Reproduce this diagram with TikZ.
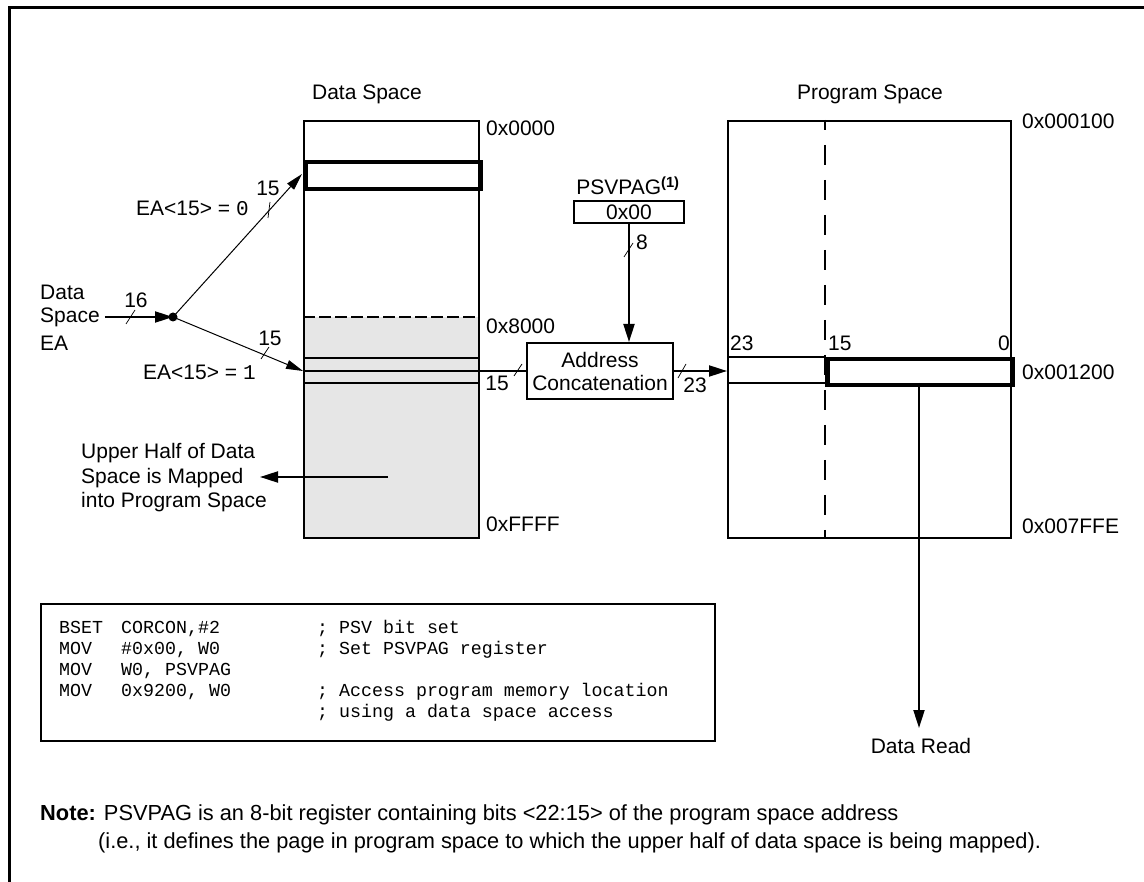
\documentclass[tikz,border=0pt]{standalone}
\usepackage{fontspec}
\setmainfont{Liberation Sans}
\setmonofont{Liberation Mono}
\usetikzlibrary{arrows.meta}
\definecolor{graybg}{RGB}{230,230,230}
\begin{document}
\begin{tikzpicture}[x=1pt,y=-1pt,
  lbl/.style={font=\fontsize{21}{24.5}\selectfont, inner sep=0pt},
  notetext/.style={font=\fontsize{21.8}{26}\selectfont, inner sep=0pt, anchor=base west},
  membox/.style={draw, line width=2.2pt, inner sep=0pt},
  rowbox/.style={draw, line width=4.5pt, inner sep=0pt},
  regbox/.style={draw, line width=2pt, inner sep=0pt},
  arr/.style={line width=2pt, -{Triangle[length=18pt,width=11pt]}},
  thinarr/.style={line width=1pt, -{Triangle[length=17pt,width=9pt]}},
  tickmark/.style={line width=0.7pt},
  codeline/.style={font=\fontsize{18.3}{21}\selectfont\ttfamily, inner sep=0pt, anchor=base west},
  frameline/.style={line width=3pt}
]
\useasboundingbox (0,0) rectangle (1144,882);
% frame
\coordinate (fa) at (9,882);
\coordinate (fb) at (9,8);
\coordinate (fc) at (1144,8);
\draw[frameline] (fa) -- (fb) -- (fc);

% ---------- Data space ----------
\node[lbl] (dstitle) at (367,94) {Data Space};
\fill[graybg] (303,317) rectangle (478,537);
\node[membox, anchor=north west, minimum width=175pt, minimum height=417pt] (ds) at (303,120) {};
\draw[line width=2pt, dash pattern=on 12pt off 4pt] (ds.west |- 0,317) -- (ds.east |- 0,317);
\node[rowbox, anchor=north west, minimum width=175pt, minimum height=27pt] (dsr) at (303,160) {};
\draw[line width=2pt] (ds.west |- 0,358) -- (ds.east |- 0,358);
\draw[line width=2pt] (ds.west |- 0,383) -- (ds.east |- 0,383);
\node[lbl, anchor=west] (h0) at (486,128) {0x0000};
\node[lbl, anchor=west] (h8) at (486,326) {0x8000};
\node[lbl, anchor=west] (hf) at (486,524) {0xFFFF};

% ---------- EA input ----------
\node[lbl, anchor=west] (eadata) at (40,292) {Data};
\node[lbl, anchor=west] (easpace) at (40,317) {Space};
\node[lbl, anchor=west] (eaea) at (40,343) {EA};
\coordinate (dot) at (173,317);
\coordinate (dstop) at (302,174);
\coordinate (dsrow) at (303,371);
\draw[arr, shorten <=5pt] (easpace.east) -- (dot);
\draw[thinarr] (dot) -- (dstop);
\draw[thinarr] (dot) -- (dsrow);
\node[circle, fill, inner sep=0pt, minimum size=9pt] (dotn) at (dot) {};
\draw[tickmark] (126,324) -- (135,310);
\node[lbl] (n16) at (136,300) {16};
\draw[tickmark] (268,218) -- (270,202);
\node[lbl] (n15a) at (268,188) {15};
\node[lbl, anchor=west] (ea0) at (136,208) {EA<15> = \texttt{0}};
\draw[tickmark] (261,359) -- (269,347);
\node[lbl] (n15b) at (270,338) {15};
\node[lbl, anchor=west] (ea1) at (143,372) {EA<15> = \texttt{1}};

% ---------- Upper half note ----------
\node[lbl, anchor=west, align=left] (upper) at (81,478) {Upper Half of Data\\Space is Mapped\\into Program Space};
\coordinate (upsrc) at (388,477);
\coordinate (uptip) at (260,477);
\draw[arr] (upsrc) -- (uptip);

% ---------- PSVPAG and concatenation ----------
\node[lbl] (psvt) at (628,186) {PSVPAG\textsuperscript{\bfseries (1)}};
\node[regbox, lbl, draw, line width=2pt, minimum width=110pt, minimum height=22pt] (psv) at (629,212) {0x00};
\node[regbox, minimum width=146pt, minimum height=56pt, align=center, lbl, draw, line width=2pt] (addr) at (600,371) {Address\\[-1.5pt]Concatenation};
\draw[arr] (psv.south) -- (psv.south |- addr.north);
\draw[tickmark] (624,257) -- (633,243);
\node[lbl] (n8) at (642,242) {8};
\draw[line width=2.5pt] (dsrow) -- (addr.west);
\draw[tickmark] (514,376) -- (522,364);
\node[lbl] (n15c) at (497,383) {15};

% ---------- Program space ----------
\node[lbl] (pstitle) at (870,94) {Program Space};
\node[membox, anchor=north west, minimum width=283pt, minimum height=417pt] (ps) at (727,120) {};
\draw[arr] (addr.east) -- (ps.west |- addr.east);
\draw[tickmark] (678,378) -- (686,364);
\node[lbl] (n23) at (695,385) {23};
\draw[line width=2pt, dash pattern=on 20pt off 15pt, dash phase=10pt] (825,120) -- (825,537);
\draw[line width=2pt] (ps.west |- 0,357) -- (825,357);
\draw[line width=2pt] (ps.west |- 0,383) -- (825,383);
\node[rowbox, anchor=north west, minimum width=185pt, minimum height=26pt] (psr) at (825,357) {};
\node[lbl, anchor=west] (b23) at (730,343) {23};
\node[lbl, anchor=west] (b15) at (828,343) {15};
\node[lbl, anchor=east] (b0) at (1010,343) {0};
\node[lbl, anchor=west] (p100) at (1022,121) {0x000100};
\node[lbl, anchor=west] (p1200) at (1022,372) {0x001200};
\node[lbl, anchor=west] (p7ffe) at (1022,526) {0x007FFE};
\coordinate (rdtop) at (919,383);
\coordinate (rdend) at (919,728);
\draw[arr] (rdtop) -- (rdend);
\node[lbl] (dread) at (921,746) {Data Read};

% ---------- Code ----------
\node[draw, line width=2pt, anchor=north west, minimum width=674pt, minimum height=137pt, inner sep=0pt] (code) at (40,603) {};
\node[codeline] (c1a) at (59,633.5) {BSET};
\node[codeline] (c1b) at (121,633.5) {CORCON,\#2};
\node[codeline] (c1c) at (317,633.5) {; PSV bit set};
\node[codeline] (c2a) at (59,654.5) {MOV};
\node[codeline] (c2b) at (121,654.5) {\#0x00, W0};
\node[codeline] (c2c) at (317,654.5) {; Set PSVPAG register};
\node[codeline] (c3a) at (59,675.5) {MOV};
\node[codeline] (c3b) at (121,675.5) {W0, PSVPAG};
\node[codeline] (c4a) at (59,696.5) {MOV};
\node[codeline] (c4b) at (121,696.5) {0x9200, W0};
\node[codeline] (c4c) at (317,696.5) {; Access program memory location};
\node[codeline] (c5c) at (317,717.5) {; using a data space access};

% ---------- Note ----------
\node[notetext] (note1) at (40,820) {\textbf{Note:} PSVPAG is an 8-bit register containing bits <22:15> of the program space address};
\node[notetext] (note2) at (98,848) {(i.e., it defines the page in program space to which the upper half of data space is being mapped).};
\end{tikzpicture}
\end{document}
